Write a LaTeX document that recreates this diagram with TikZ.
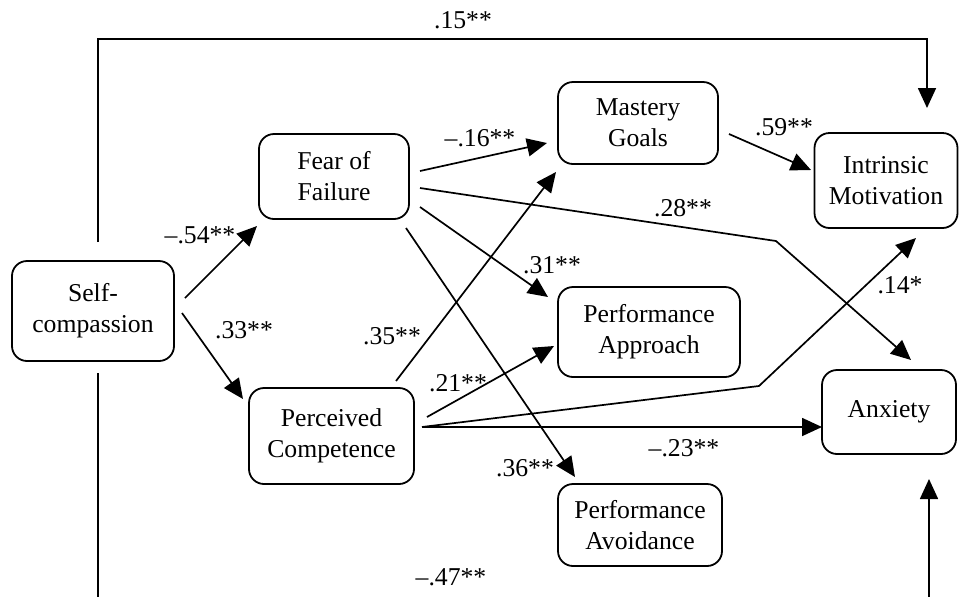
\documentclass[tikz,border=0pt]{standalone}
\usepackage{fontspec}
\setmainfont{Liberation Serif}
\usetikzlibrary{arrows.meta}
\tikzset{
  box/.style={draw, line width=0.9pt, rounded corners=7.5pt, align=center, inner sep=0pt, outer sep=0pt, font=\fontsize{12.85}{15.5}\selectfont},
  lbl/.style={inner sep=0pt, font=\fontsize{12.85}{15.5}\selectfont},
  arr/.style={line width=0.85pt, -{Triangle[length=10pt,width=9pt]}},
}
\begin{document}
\begin{tikzpicture}[x=0.5pt, y=-0.5pt]
			%%%%% START %%%%%
			\useasboundingbox (0, 0) rectangle (959, 596);
			
			\node[box, minimum width=81pt, minimum height=50pt] (sc) at (93, 311) {Self-\\compassion};
			\node[box, minimum width=75pt, minimum height=42.5pt] (ff) at (334, 176.5) {Fear of\\Failure};
			\node[box, minimum width=82.5pt, minimum height=48pt] (pc) at (331.5, 436) {Perceived\\Competence};
			\node[box, minimum width=80pt, minimum height=41pt] (mg) at (638, 123) {Mastery\\Goals};
			\node[box, minimum width=91pt, minimum height=45pt] (pap) at (649, 332) {Performance\\Approach};
			\node[box, minimum width=82pt, minimum height=41pt] (pav) at (640, 525) {Performance\\Avoidance};
			\node[box, minimum width=71.5pt, minimum height=47.5pt] (im) at (886, 180.5) {Intrinsic\\Motivation};
			\node[box, minimum width=67pt, minimum height=42pt] (anx) at (889, 412) {\raisebox{2pt}{Anxiety}};
			
			\coordinate (bendA) at (776, 241);
			\coordinate (bendB) at (759, 386);
			
			% self-compassion paths
			\draw[arr] ([shift={(11,-13)}]sc.east) -- ([shift={(-2,7)}]ff.south west);
			\draw[arr] ([shift={(8,2)}]sc.east) -- ([shift={(-6,11)}]pc.north west);
			\draw[arr] ([shift={(5,-19)}]sc.north) -- ++(0,-203) -| ([shift={(41,-25)}]im.north);
			\begin{scope}
				\clip (0, 0) rectangle (959, 596);
				\draw[arr] ([shift={(5,12)}]sc.south) -- ++(0,247) -| ([shift={(40,25)}]anx.south);
			\end{scope}
			
			% fear of failure paths
			\draw[arr] ([shift={(11,-5.5)}]ff.east) -- ([shift={(-11,20)}]mg.west);
			\draw[arr] ([shift={(11,11.5)}]ff.east) -- (bendA) -- ([shift={(22,-10)}]anx.north);
			\draw[arr] ([shift={(11,30.5)}]ff.east) -- ([shift={(-10,10)}]pap.north west);
			\draw[arr] ([shift={(-3,9)}]ff.south east) -- ([shift={(17,-7)}]pav.north west);
			
			% perceived competence paths
			\draw[arr] ([shift={(-18,-7)}]pc.north east) -- ([shift={(-2,8)}]mg.south west);
			\draw[arr] ([shift={(13,-19)}]pc.east) -- ([shift={(-4,14)}]pap.west);
			\draw[arr] ([shift={(8,-9)}]pc.east) -- (bendB) -- ([shift={(30,10)}]im.south);
			\draw[arr] ([shift={(8,-9)}]pc.east) -- ([shift={(0,15)}]anx.west);
			
			\draw[arr] ([shift={(11,11)}]mg.east) -- ([shift={(-3.5,-10.5)}]im.west);
			
			% coefficients
			\node[lbl] (c15) at (463, 20) {.15**};
			\node[lbl] (c54) at (200, 235) {–.54**};
			\node[lbl] (c33) at (244, 330) {.33**};
			\node[lbl] (c35) at (392, 336) {.35**};
			\node[lbl] (c21) at (458, 383) {.21**};
			\node[lbl] (c47) at (451, 577) {–.47**};
			\node[lbl] (c16) at (480, 138) {–.16**};
			\node[lbl] (c59) at (784, 127) {.59**};
			\node[lbl] (c28) at (683, 208) {.28**};
			\node[lbl] (c31) at (552, 265) {.31**};
			\node[lbl] (c14) at (900, 285) {.14*};
			\node[lbl] (c23) at (684, 448) {–.23**};
			\node[lbl] (c36) at (525, 468) {.36**};
			
			%%%%% END %%%%%
\end{tikzpicture}
\end{document}
